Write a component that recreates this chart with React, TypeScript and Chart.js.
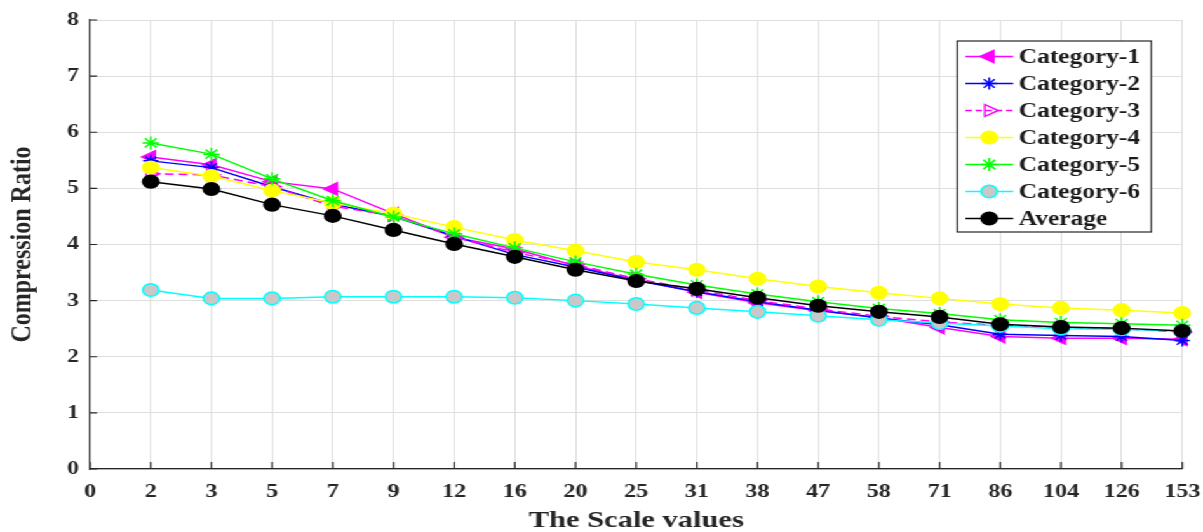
import React, { useEffect, useRef } from "react";
import { Chart, registerables } from "chart.js";

Chart.register(...registerables);

const scaleLabels = ["0", "2", "3", "5", "7", "9", "12", "16", "20", "25", "31", "38", "47", "58", "71", "86", "104", "126", "153"];

const category1 = [5.56, 5.42, 5.12, 4.99, 4.55, 4.13, 3.92, 3.62, 3.37, 3.15, 2.96, 2.82, 2.70, 2.52, 2.36, 2.33, 2.33, 2.31];
const category2 = [5.49, 5.37, 5.03, 4.72, 4.50, 4.15, 3.82, 3.60, 3.36, 3.16, 2.98, 2.83, 2.69, 2.57, 2.40, 2.38, 2.36, 2.29];
const category3 = [5.26, 5.24, 5.03, 4.68, 4.52, 4.13, 3.86, 3.64, 3.39, 3.19, 3.00, 2.85, 2.72, 2.62, 2.56, 2.52, 2.50, 2.44];
const category4 = [5.37, 5.22, 4.96, 4.74, 4.55, 4.31, 4.08, 3.89, 3.69, 3.55, 3.39, 3.25, 3.14, 3.04, 2.94, 2.87, 2.83, 2.78];
const category5 = [5.81, 5.61, 5.17, 4.78, 4.49, 4.19, 3.94, 3.69, 3.47, 3.28, 3.12, 2.98, 2.86, 2.77, 2.66, 2.61, 2.59, 2.56];
const category6 = [3.19, 3.04, 3.04, 3.07, 3.07, 3.07, 3.05, 3.00, 2.94, 2.87, 2.80, 2.73, 2.66, 2.60, 2.55, 2.50, 2.49, 2.46];
const average = [5.12, 4.99, 4.71, 4.51, 4.26, 4.01, 3.78, 3.55, 3.35, 3.21, 3.05, 2.91, 2.80, 2.71, 2.58, 2.53, 2.51, 2.46];

const yTicks = [0, 1, 2, 3, 4, 5, 6, 7, 8];

const W = 947;
const H = 532;
const STRETCH = 1203 / W;
const SERIF = "'Liberation Serif', 'Times New Roman', serif";

type Spec = {
  label: string;
  values: number[];
  color: string;
  fill: string;
  style: string;
  radius: number;
  rotation: number;
  dash: number[];
};

const specs: Spec[] = [
  { label: "Category-1", values: category1, color: "#ff00ff", fill: "#ff00ff", style: "triangle", radius: 7, rotation: -90, dash: [] },
  { label: "Category-2", values: category2, color: "#0000ff", fill: "#0000ff", style: "star", radius: 6, rotation: 0, dash: [] },
  { label: "Category-3", values: category3, color: "#ff00ff", fill: "rgba(0,0,0,0)", style: "triangle", radius: 7, rotation: 90, dash: [7, 4] },
  { label: "Category-4", values: category4, color: "#ffff00", fill: "#ffff00", style: "circle", radius: 6.3, rotation: 0, dash: [] },
  { label: "Category-5", values: category5, color: "#00ff00", fill: "#00ff00", style: "star", radius: 6.5, rotation: 0, dash: [] },
  { label: "Category-6", values: category6, color: "#00ffff", fill: "#c8c8c8", style: "circle", radius: 6.3, rotation: 0, dash: [] },
  { label: "Average", values: average, color: "#000000", fill: "#000000", style: "circle", radius: 6.3, rotation: 0, dash: [] },
];

function drawMarker(ctx: CanvasRenderingContext2D, s: Spec, x: number, y: number) {
  ctx.save();
  ctx.strokeStyle = s.color;
  ctx.fillStyle = s.fill;
  ctx.lineWidth = 1.5;
  ctx.setLineDash([]);
  const r = s.radius;
  ctx.beginPath();
  if (s.style === "circle") {
    ctx.arc(x, y, r, 0, Math.PI * 2);
    ctx.fill();
    ctx.stroke();
  } else if (s.style === "triangle") {
    let rad = (s.rotation * Math.PI) / 180;
    ctx.moveTo(x + Math.sin(rad) * r, y - Math.cos(rad) * r);
    rad += (2 * Math.PI) / 3;
    ctx.lineTo(x + Math.sin(rad) * r, y - Math.cos(rad) * r);
    rad += (2 * Math.PI) / 3;
    ctx.lineTo(x + Math.sin(rad) * r, y - Math.cos(rad) * r);
    ctx.closePath();
    ctx.fill();
    ctx.stroke();
  } else {
    for (let k = 0; k < 4; k++) {
      const a = (k * Math.PI) / 4;
      ctx.moveTo(x + Math.cos(a) * r, y + Math.sin(a) * r);
      ctx.lineTo(x - Math.cos(a) * r, y - Math.sin(a) * r);
    }
    ctx.stroke();
  }
  ctx.restore();
}

const innerTicksPlugin = {
  id: "innerTicks",
  beforeDatasetsDraw(chart: any) {
    const ctx = chart.ctx as CanvasRenderingContext2D;
    const area = chart.chartArea;
    const xs = chart.scales.x;
    const ys = chart.scales.y;
    ctx.save();
    ctx.strokeStyle = "#262626";
    ctx.lineWidth = 1.2;
    ctx.beginPath();
    for (let i = 0; i < scaleLabels.length; i++) {
      const px = xs.getPixelForTick(i);
      ctx.moveTo(px, area.bottom);
      ctx.lineTo(px, area.bottom - 7);
    }
    for (const v of yTicks) {
      const py = ys.getPixelForValue(v);
      ctx.moveTo(area.left, py);
      ctx.lineTo(area.left + 5.5, py);
    }
    ctx.stroke();
    ctx.restore();
  },
};

const boxLegendPlugin = {
  id: "boxLegend",
  afterDraw(chart: any) {
    const ctx = chart.ctx as CanvasRenderingContext2D;
    const left = 753.5;
    const top = 41;
    const right = 906.3;
    const bottom = 232;
    ctx.save();
    ctx.fillStyle = "#ffffff";
    ctx.fillRect(left, top, right - left, bottom - top);
    ctx.strokeStyle = "#262626";
    ctx.lineWidth = 1.2;
    ctx.strokeRect(left, top, right - left, bottom - top);
    specs.forEach((s, i) => {
      const y = 56.5 + i * 27;
      ctx.save();
      ctx.strokeStyle = s.color;
      ctx.lineWidth = 1.5;
      ctx.setLineDash(s.dash.length ? [5, 3] : []);
      ctx.beginPath();
      ctx.moveTo(760, y);
      ctx.lineTo(797.6, y);
      ctx.stroke();
      ctx.restore();
      drawMarker(ctx, s, 778.7, y);
      ctx.fillStyle = "#1a1a1a";
      ctx.font = `bold 20px ${SERIF}`;
      ctx.textAlign = "left";
      ctx.textBaseline = "middle";
      ctx.fillText(s.label, 802, y + 1);
    });
    ctx.restore();
  },
};

export default function App() {
  const ref = useRef<HTMLCanvasElement>(null);

  useEffect(() => {
    const canvas = ref.current;
    if (!canvas) return;
    const datasets = specs.map((s, i) => ({
      label: s.label,
      data: [null, ...s.values],
      borderColor: s.color,
      backgroundColor: s.fill,
      borderWidth: 1.5,
      borderDash: s.dash,
      pointStyle: s.style,
      pointRadius: s.radius,
      pointRotation: s.rotation,
      pointBorderColor: s.color,
      pointBackgroundColor: s.fill,
      pointBorderWidth: 1.5,
      fill: false,
      tension: 0,
      order: specs.length - 1 - i,
    }));

    const tickFont = { family: SERIF, weight: "bold" as const, size: 19 };
    const titleFont = { family: SERIF, weight: "bold" as const, size: 24 };

    const chart = new Chart(canvas, {
      type: "line",
      data: { labels: scaleLabels, datasets: datasets as any },
      options: {
        responsive: false,
        animation: false,
        devicePixelRatio: 1,
        layout: { padding: { top: 20, right: 16.3, bottom: 0, left: 0 } },
        plugins: {
          legend: { display: false },
          tooltip: { enabled: false },
        },
        scales: {
          x: {
            type: "category",
            offset: false,
            grid: { color: "#dedede", lineWidth: 1, drawTicks: true, tickLength: 11, tickColor: "rgba(0,0,0,0)" },
            border: { color: "#262626", width: 1.2 },
            ticks: { autoSkip: false, maxRotation: 0, minRotation: 0, padding: 0.5, color: "#262626", font: tickFont },
            title: {
              display: true,
              text: "The Scale values",
              color: "#262626",
              font: { ...titleFont, lineHeight: 0.9 },
              padding: { top: 0, bottom: 0 },
            },
            afterFit: (s: any) => {
              s.height = 63;
            },
          } as any,
          y: {
            min: 0,
            max: 8,
            grid: { color: "#dedede", lineWidth: 1, drawTicks: true, tickLength: 8, tickColor: "rgba(0,0,0,0)" },
            border: { color: "#262626", width: 1.2 },
            ticks: { stepSize: 1, padding: 0.7, color: "#262626", font: tickFont },
            title: {
              display: true,
              text: "Compression Ratio",
              color: "#262626",
              font: { ...titleFont, lineHeight: 1.2 },
              padding: { top: 2.9, bottom: 0 },
            },
            afterFit: (s: any) => {
              s.width = 70.9;
            },
          } as any,
        },
      },
      plugins: [innerTicksPlugin, boxLegendPlugin],
    });
    return () => chart.destroy();
  }, []);

  return (
    <div
      style={{
        position: "fixed",
        left: 0,
        top: 0,
        width: W,
        height: H,
        background: "#ffffff",
        transform: `scaleX(${STRETCH})`,
        transformOrigin: "0 0",
      }}
    >
      <canvas ref={ref} width={W} height={H} style={{ display: "block", width: W, height: H }} />
    </div>
  );
}
